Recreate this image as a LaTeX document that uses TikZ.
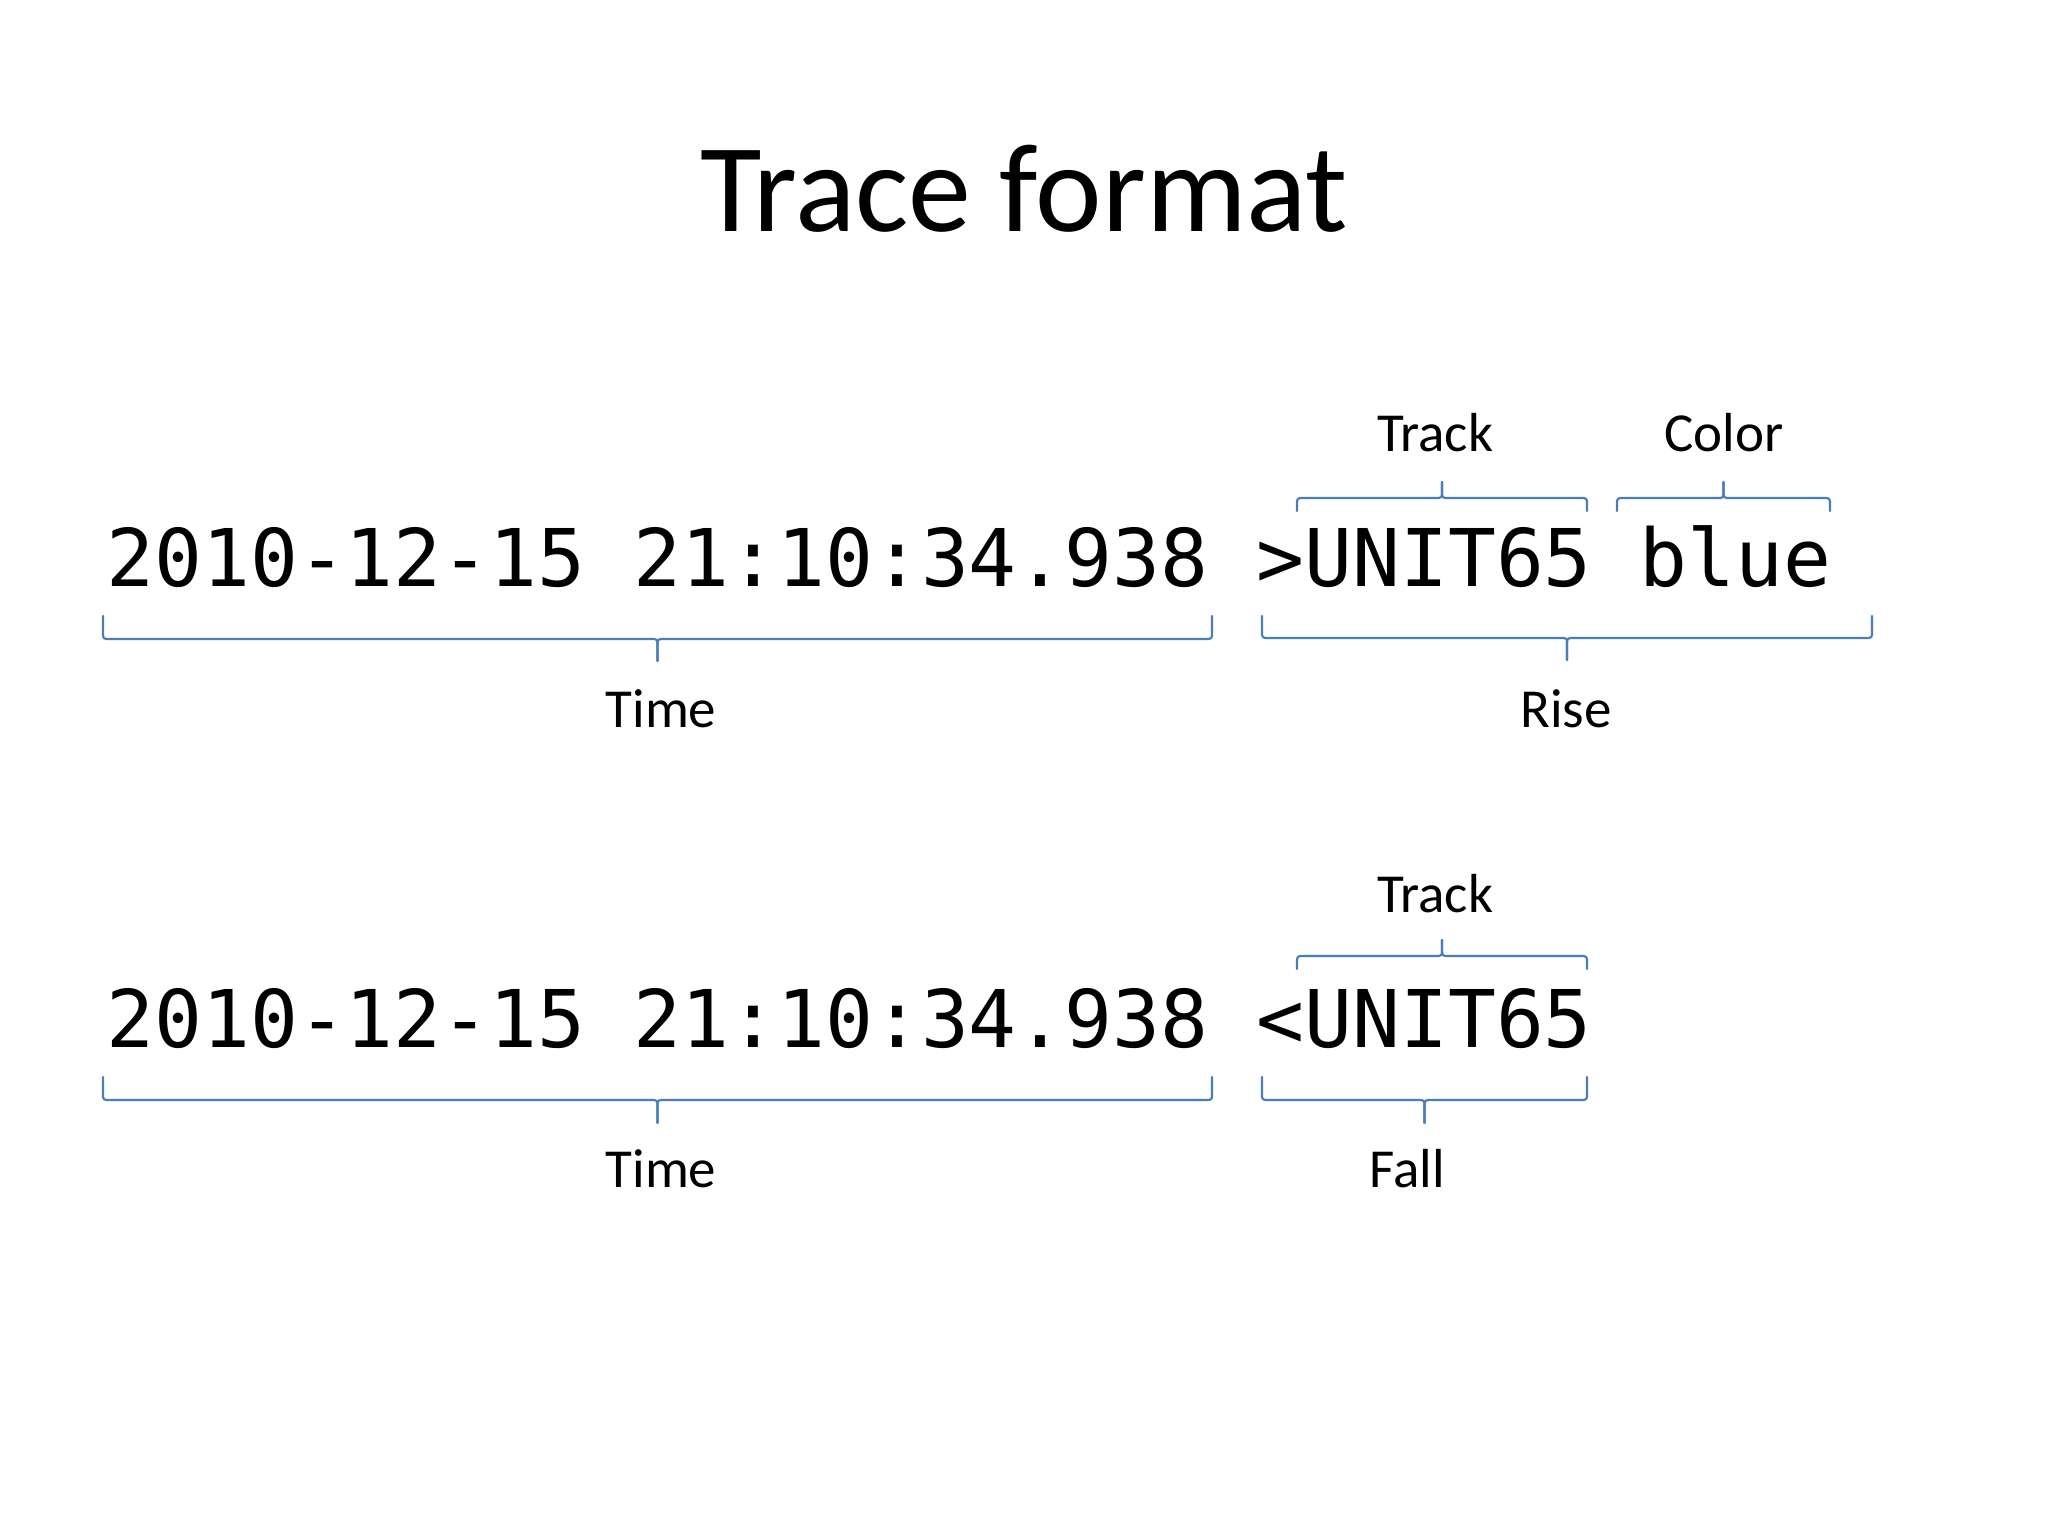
\documentclass[tikz,border=0pt]{standalone}
\usepackage{fontspec}
\setmainfont{Carlito}
\newfontfamily\monof{DejaVu Sans Mono}
\definecolor{braceblue}{HTML}{4A7EBB}
\tikzset{
  bracestyle/.style={draw=braceblue, line width=1.1pt, line cap=round, line join=round},
  codetext/.style={font=\monof\fontsize{39.8}{48}\selectfont, inner sep=0pt, anchor=base west},
  labeltext/.style={font=\fontsize{27.5}{33}\selectfont, inner sep=0pt, anchor=base},
  titletext/.style={font=\fontsize{63}{76}\selectfont, inner sep=0pt, anchor=base},
}
% #1 xL, #2 xR, #3 y of ends, #4 y of long line, #5 y of tip
\newcommand\officebrace[5]{%
  \pgfmathsetmacro\bxm{(#1+#2)/2}%
  \pgfmathsetmacro\bs{sign(#4-#3)}%
  \pgfmathsetmacro\bya{#4-\bs*7}%
  \pgfmathsetmacro\byb{#4+\bs*7}%
  \draw[bracestyle] (#1,#3) -- (#1,\bya) .. controls (#1,#4) .. (#1+7,#4)
     -- (\bxm-7,#4) .. controls (\bxm,#4) .. (\bxm,\byb) -- (\bxm,#5);
  \draw[bracestyle] (#2,#3) -- (#2,\bya) .. controls (#2,#4) .. (#2-7,#4)
     -- (\bxm+7,#4) .. controls (\bxm,#4) .. (\bxm,\byb) -- (\bxm,#5);
}
\begin{document}
\begin{tikzpicture}[x=0.5pt,y=-0.5pt]
\fill[white] (0,0) rectangle (2048,1536);
\useasboundingbox (0,0) rectangle (2048,1536);

\node[titletext] (title) at (1024,231) {Trace format};

% line 1
\node[codetext] (code1) at (106,586) {2010-12-15 21:10:34.938 >UNIT65 blue};
\node[labeltext] (track1) at (1435,451) {Track};
\node[labeltext] (color1) at (1724,451) {Color};
\node[labeltext] (time1) at (661,727) {Time};
\node[labeltext] (rise1) at (1566,727) {Rise};
\officebrace{1297}{1587}{511}{498}{482}
\officebrace{1617}{1830}{511}{498}{482}
\officebrace{103}{1212}{616}{639}{661}
\officebrace{1262}{1872}{616}{638}{660}

% line 2
\node[codetext] (code2) at (106,1047) {2010-12-15 21:10:34.938 <UNIT65};
\node[labeltext] (track2) at (1435,912) {Track};
\node[labeltext] (time2) at (661,1187) {Time};
\node[labeltext] (fall2) at (1407,1187) {Fall};
\officebrace{1297}{1587}{969}{956}{940}
\officebrace{103}{1212}{1077}{1100}{1123}
\officebrace{1262}{1587}{1077}{1100}{1123}
\end{tikzpicture}
\end{document}
